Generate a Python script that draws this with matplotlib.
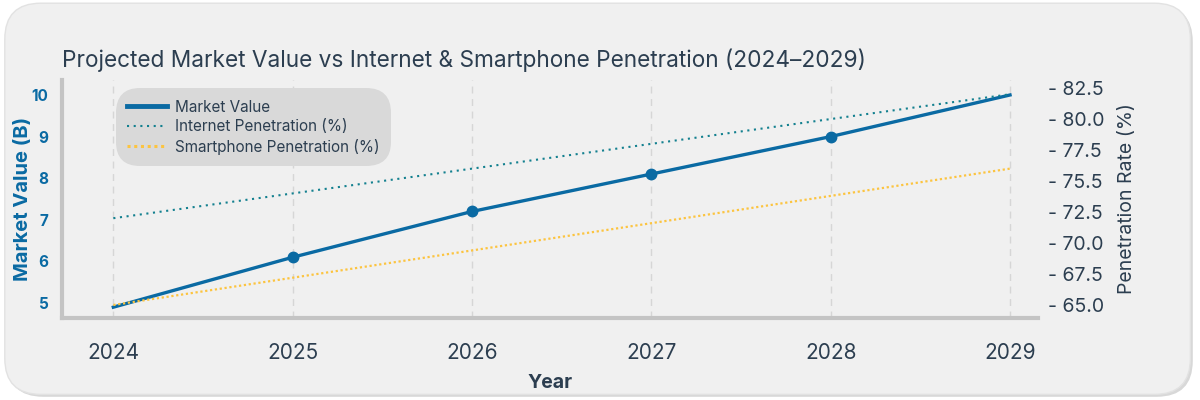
import matplotlib.pyplot as plt
from matplotlib.patches import FancyBboxPatch
from matplotlib.lines import Line2D

plt.rcParams['font.family'] = ['Inter', 'DejaVu Sans']

# data
years = [2024, 2025, 2026, 2027, 2028, 2029]
market_value = [4.9, 6.1, 7.2, 8.1, 9.0, 10.0]
internet_pen = [72.0, 74.0, 76.0, 78.0, 80.0, 82.0]
smartphone_pen = [65.0, 67.2, 69.4, 71.6, 73.8, 76.0]
right_ticks = [65.0, 67.5, 70.0, 72.5, 75.0, 77.5, 80.0, 82.5]
right_labels = ["65.0", "67.5", "70.0", "72.5", "75.5", "77.5", "80.0", "82.5"]

blue = "#0a6aa3"
teal = "#13808f"
yellow = "#fcc440"
dark = "#2c3e50"

fig = plt.figure(figsize=(12, 4), dpi=100)
fig.patch.set_facecolor("white")

# rounded card background with a soft shadow
shadow = FancyBboxPatch((0.006, 0.008), 0.988, 0.978, boxstyle="round,pad=0,rounding_size=0.03",
                        transform=fig.transFigure, facecolor="#d8d8d8", edgecolor="none",
                        mutation_aspect=3, zorder=-3)
card = FancyBboxPatch((0.004, 0.014), 0.988, 0.978, boxstyle="round,pad=0,rounding_size=0.03",
                      transform=fig.transFigure, facecolor="#f0f0f0", edgecolor="#e2e2e2",
                      mutation_aspect=3, zorder=-2)
fig.patches.extend([shadow, card])

ax = fig.add_axes([0.052, 0.205, 0.813, 0.595])
ax.set_facecolor("none")
ax2 = ax.twinx()

ax.plot(years, market_value, color=blue, lw=2.4, marker="o", ms=7.5,
        markevery=[1, 2, 3, 4], zorder=3)
ax2.plot(years, internet_pen, color=teal, lw=1.5, ls=(0, (1, 2.2)))
ax2.plot(years, smartphone_pen, color=yellow, lw=1.6, ls=(0, (1, 1.2)))

ax.set_xlim(2023.716, 2029.156)
ax.set_ylim(4.64, 10.36)
ax2.set_ylim(63.95, 83.15)

ax.set_xticks(years)
ax.set_xticklabels([str(y) for y in years], fontsize=15, color=dark)
ax.tick_params(axis="x", length=0, pad=18)
ax.set_yticks([5, 6, 7, 8, 9, 10])
ax.tick_params(axis="y", length=0, pad=10, labelsize=11, labelcolor=blue)
for t in ax.get_yticklabels():
    t.set_fontweight("bold")

ax2.set_yticks(right_ticks)
ax2.set_yticklabels(["- " + s for s in right_labels], fontsize=14, color=dark)
ax2.tick_params(axis="y", length=0, pad=7)

ax.grid(axis="x", color="#d6d6d6", ls=(0, (5, 4)), lw=1)
ax.set_axisbelow(True)

for a in (ax, ax2):
    for s in ("top", "right"):
        a.spines[s].set_visible(False)
ax2.spines["left"].set_visible(False)
ax2.spines["bottom"].set_visible(False)
ax.spines["left"].set_color("#c4c4c4")
ax.spines["left"].set_linewidth(3)
ax.spines["bottom"].set_color("#c4c4c4")
ax.spines["bottom"].set_linewidth(3)

ax.set_xlabel("Year", fontsize=14, fontweight="bold", color=dark, labelpad=8)
ax.set_ylabel("Market Value (B)", fontsize=14.5, fontweight="bold", color=blue, labelpad=0)
ax2.set_ylabel("Penetration Rate (%)", fontsize=14, color=dark, labelpad=10)

fig.text(0.052, 0.85, "Projected Market Value vs Internet & Smartphone Penetration (2024\u20132029)",
         fontsize=16.3, color=dark, ha="left", va="center")

handles = [Line2D([], [], color=blue, lw=3.5),
           Line2D([], [], color=teal, lw=1.5, ls=(0, (1, 2.2))),
           Line2D([], [], color=yellow, lw=2.2, ls=(0, (1, 1.2)))]
labels = ["Market Value", "Internet Penetration (%)", "Smartphone Penetration (%)"]
leg = ax2.legend(handles, labels, loc="upper left", bbox_to_anchor=(0.05, 0.985),
                 fontsize=11, frameon=True, fancybox=True, facecolor="#d9d9d9",
                 edgecolor="none", framealpha=1, handlelength=2.6, labelspacing=0.3,
                 borderpad=0.55, handletextpad=0.5)
leg.get_frame().set_boxstyle("round,pad=0.2,rounding_size=1.6")
for t in leg.get_texts():
    t.set_color(dark)

fig.savefig("out.png", dpi=100)
